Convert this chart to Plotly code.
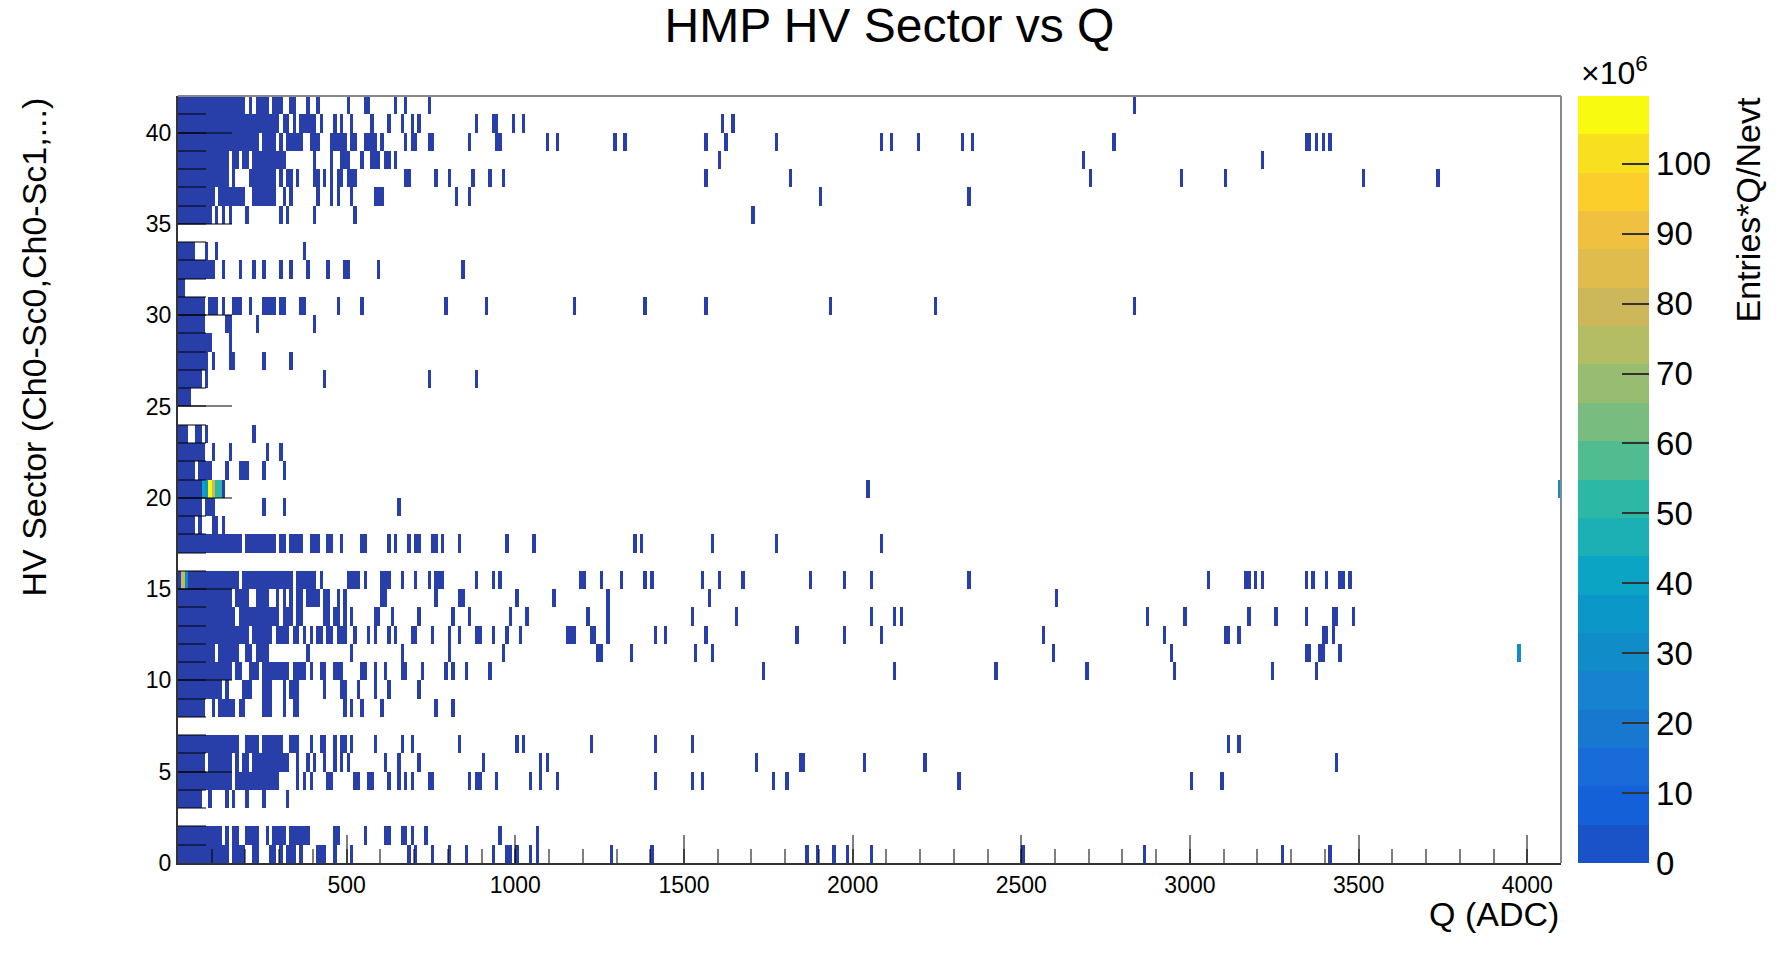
import plotly.graph_objects as go

# ---------------- data ----------------
Q_MAX = 4100          # ADC range of the x axis
BIN_W = 10            # ADC width of one histogram bin
N_SECTORS = 42        # HV sectors 0..41
LOW_LEVEL = 2.0       # x10^6 : ordinary filled cells (lowest colour band)
Z_MAX = 109.7         # x10^6 : top of the colour scale

# occupied ADC ranges [lo, hi) per HV sector (ordinary, low-valued cells)
sector_00 = [(0,150),(160,200),(220,240),(270,290),(300,310),(320,350),(360,370),(410,440),(460,470),(510,520),(680,690),(700,710),(750,760),(800,810),(850,860),(930,940),(970,990),(1000,1010),(1040,1050),(1060,1070),(1280,1290),(1400,1410),(1860,1870),(1890,1900),(1940,1950),(1980,1990),(2050,2060),(2500,2510),(2860,2870),(3270,3280),(3410,3420)]
sector_01 = [(0,130),(140,150),(160,180),(200,240),(260,270),(280,320),(330,390),(460,480),(550,560),(610,630),(660,680),(690,700),(730,740),(950,960),(1060,1070)]
sector_02 = []
sector_03 = [(0,70),(90,100),(140,150),(160,170),(200,210),(250,260),(320,330)]
sector_04 = [(0,160),(170,300),(350,360),(370,380),(390,400),(440,460),(520,540),(560,580),(620,630),(650,660),(670,680),(690,700),(740,760),(860,870),(880,900),(940,950),(1040,1050),(1070,1080),(1120,1130),(1410,1420),(1520,1530),(1550,1560),(1760,1770),(1800,1810),(2310,2320),(3000,3010),(3090,3100)]
sector_05 = [(0,80),(90,160),(170,180),(190,210),(220,330),(350,360),(380,390),(400,410),(430,440),(460,470),(480,490),(500,510),(610,620),(650,660),(710,720),(900,910),(1070,1080),(1090,1100),(1710,1720),(1840,1860),(2030,2040),(2210,2220),(3430,3440)]
sector_06 = [(0,180),(200,240),(250,310),(330,360),(390,400),(420,440),(460,470),(480,500),(510,520),(580,590),(660,670),(690,700),(830,840),(1000,1010),(1020,1030),(1220,1230),(1410,1420),(1520,1530),(3110,3120),(3140,3150)]
sector_07 = []
sector_08 = [(0,80),(100,110),(120,170),(180,200),(250,280),(310,320),(340,360),(490,500),(510,520),(540,550),(600,610),(760,770),(810,820)]
sector_09 = [(0,130),(140,150),(190,220),(250,280),(310,320),(330,360),(430,440),(480,500),(530,540),(580,590),(620,630),(710,720)]
sector_10 = [(0,160),(170,190),(210,240),(250,330),(340,380),(390,400),(420,440),(460,490),(540,560),(580,590),(610,620),(660,680),(720,730),(790,800),(810,820),(850,860),(920,930),(1730,1740),(2120,2130),(2420,2430),(2690,2700),(2950,2960),(3240,3250),(3370,3380)]
sector_11 = [(0,110),(120,180),(200,220),(230,270),(380,390),(510,520),(660,670),(800,810),(960,970),(1240,1260),(1340,1350),(1530,1540),(1580,1590),(2590,2600),(2940,2950),(3340,3360),(3380,3400),(3440,3450)]
sector_12 = [(0,210),(220,280),(290,330),(340,360),(370,380),(390,400),(410,430),(440,460),(470,500),(520,530),(560,570),(580,590),(620,630),(640,650),(690,710),(750,760),(800,810),(830,840),(880,900),(930,940),(970,980),(1010,1020),(1150,1180),(1220,1240),(1270,1280),(1410,1420),(1440,1450),(1560,1570),(1830,1840),(1970,1980),(2080,2090),(2560,2570),(2920,2930),(3100,3120),(3140,3150),(3390,3410),(3420,3430)]
sector_13 = [(0,170),(180,300),(310,340),(350,370),(430,450),(460,480),(490,500),(510,520),(580,600),(630,640),(710,720),(810,820),(860,870),(980,990),(1030,1040),(1210,1220),(1270,1280),(1520,1530),(1650,1660),(2050,2060),(2120,2130),(2140,2150),(2870,2880),(2980,2990),(3170,3180),(3250,3260),(3340,3350),(3420,3440),(3480,3490)]
sector_14 = [(0,160),(170,210),(230,270),(290,300),(310,320),(330,340),(350,370),(380,420),(430,450),(470,480),(490,500),(600,620),(760,770),(830,850),(1000,1010),(1110,1120),(1270,1280),(1570,1580),(2600,2610)]
sector_15 = [(0,10),(30,180),(190,340),(350,410),(420,430),(500,540),(550,560),(600,630),(660,670),(700,710),(740,750),(760,790),(880,890),(930,940),(950,960),(1190,1210),(1250,1260),(1310,1320),(1380,1390),(1400,1410),(1550,1560),(1600,1610),(1670,1680),(1870,1880),(1970,1980),(2050,2060),(2340,2350),(3050,3060),(3160,3180),(3190,3200),(3210,3220),(3340,3350),(3360,3370),(3400,3410),(3440,3460),(3470,3480)]
sector_16 = []
sector_17 = [(0,190),(200,290),(300,320),(330,370),(390,420),(440,460),(480,490),(540,560),(620,630),(640,650),(680,690),(700,720),(750,770),(780,790),(830,840),(970,980),(1050,1060),(1350,1360),(1370,1380),(1580,1590),(1770,1780),(2080,2090)]
sector_18 = [(0,50),(60,70),(100,120),(130,140)]
sector_19 = [(0,70),(80,110),(250,260),(310,320),(650,660)]
sector_20 = [(0,70),(130,140),(2040,2050)]
sector_21 = [(0,50),(60,100),(140,150),(180,210),(250,260),(310,320)]
sector_22 = [(0,80),(100,110),(150,160),(260,270),(300,310)]
sector_23 = [(0,30),(50,70),(80,90),(220,230)]
sector_24 = []
sector_25 = [(0,40)]
sector_26 = [(0,70),(80,90),(430,440),(740,750),(880,890)]
sector_27 = [(0,90),(100,110),(150,170),(250,260),(330,340)]
sector_28 = [(0,100),(150,160)]
sector_29 = [(0,80),(140,160),(230,240),(400,410)]
sector_30 = [(0,80),(90,120),(130,140),(160,190),(210,220),(250,290),(300,320),(360,380),(470,480),(540,550),(790,800),(910,920),(1170,1180),(1380,1390),(1560,1570),(1930,1940),(2240,2250),(2830,2840)]
sector_31 = [(0,20)]
sector_32 = [(0,110),(130,140),(180,190),(220,230),(250,260),(300,310),(330,340),(380,390),(440,450),(490,510),(590,600),(840,850)]
sector_33 = [(0,50),(80,90),(110,120),(370,380)]
sector_34 = []
sector_35 = [(0,100),(110,120),(130,140),(150,160),(200,210),(300,310),(320,330),(400,410),(520,530),(1700,1710)]
sector_36 = [(0,110),(120,200),(220,290),(310,320),(330,340),(410,420),(450,460),(470,480),(510,520),(580,610),(820,830),(860,870),(1900,1910),(2340,2350)]
sector_37 = [(0,150),(160,170),(210,290),(300,310),(320,340),(350,360),(400,420),(430,440),(450,460),(470,490),(500,530),(670,690),(760,770),(800,810),(870,880),(920,930),(960,970),(1560,1570),(1810,1820),(2700,2710),(2970,2980),(3100,3110),(3510,3520),(3730,3740)]
sector_38 = [(0,150),(160,180),(190,210),(220,320),(400,410),(450,460),(480,510),(540,550),(570,600),(610,630),(640,650),(1600,1610),(2680,2690),(3210,3220)]
sector_39 = [(0,240),(250,290),(300,310),(320,370),(390,420),(450,500),(510,530),(550,590),(600,610),(670,680),(690,710),(740,760),(860,870),(940,960),(1090,1100),(1120,1130),(1290,1300),(1320,1330),(1560,1570),(1620,1630),(1770,1780),(2080,2090),(2110,2120),(2190,2200),(2320,2330),(2350,2360),(2770,2780),(3340,3360),(3370,3380),(3390,3400),(3410,3420)]
sector_40 = [(0,300),(310,330),(340,350),(360,410),(420,430),(460,470),(480,490),(510,520),(570,580),(620,630),(660,670),(690,700),(710,720),(880,890),(930,950),(990,1000),(1020,1030),(1610,1620),(1640,1650)]
sector_41 = [(0,200),(210,220),(230,270),(280,310),(330,350),(380,390),(410,420),(500,510),(550,570),(640,650),(670,680),(740,750),(2830,2840)]

# cells with clearly higher content (x10^6)
hot_sector = [20, 20, 20, 20, 20, 20, 20, 15, 15, 11]
hot_q      = [70, 80, 90, 100, 110, 120, 4090, 10, 20, 3970]
hot_value  = [42, 36, 107, 80, 52, 52, 28, 80, 28, 28]

x_tick_vals = [500, 1000, 1500, 2000, 2500, 3000, 3500, 4000]
y_tick_vals = [0, 5, 10, 15, 20, 25, 30, 35, 40]
cbar_tick_vals = [0, 10, 20, 30, 40, 50, 60, 70, 80, 90, 100]

# ---------------- styles ----------------
band_colors = ["#1a52c8", "#1460d8", "#186bd8", "#1878d0", "#1682d0",
               "#108cc8", "#0b98c8", "#0ca4c4", "#1cb0b4", "#2cb8a4",
               "#50bc90", "#78bc80", "#98bc70", "#b4bc64", "#ccb85a",
               "#e0bc4c", "#f0c040", "#fcce2c", "#f8e020", "#f8fa10"]
cell_low_color = "#283ea8"
FONT = "Liberation Sans"
TICK_C = "rgba(0,0,0,0.5)"

sectors = [sector_00, sector_01, sector_02, sector_03, sector_04, sector_05,
           sector_06, sector_07, sector_08, sector_09, sector_10, sector_11,
           sector_12, sector_13, sector_14, sector_15, sector_16, sector_17,
           sector_18, sector_19, sector_20, sector_21, sector_22, sector_23,
           sector_24, sector_25, sector_26, sector_27, sector_28, sector_29,
           sector_30, sector_31, sector_32, sector_33, sector_34, sector_35,
           sector_36, sector_37, sector_38, sector_39, sector_40, sector_41]

n_bins = Q_MAX // BIN_W
z = [[None] * n_bins for _ in range(N_SECTORS)]
for s, runs in enumerate(sectors):
    for lo, hi in runs:
        for b in range(lo // BIN_W, hi // BIN_W):
            z[s][b] = LOW_LEVEL
for s, q, v in zip(hot_sector, hot_q, hot_value):
    z[s][q // BIN_W] = v

x_centers = [(b + 0.5) * BIN_W for b in range(n_bins)]
y_centers = [s + 0.5 for s in range(N_SECTORS)]


def discrete_scale(colors):
    n = len(colors)
    out = []
    for i, c in enumerate(colors):
        out.append([i / n, c])
        out.append([(i + 1) / n, c])
    return out


cell_scale = discrete_scale([cell_low_color] + band_colors[1:])
bar_scale = discrete_scale(band_colors)

fig = go.Figure()
fig.add_trace(go.Heatmap(
    x=x_centers, y=y_centers, z=z, colorscale=cell_scale,
    zmin=0, zmax=Z_MAX, showscale=False, hoverongaps=False, zsmooth=False))

# colour bar (separate, so the bar shows the palette bands)
fig.add_trace(go.Scatter(
    x=[-1000], y=[-1000], mode="markers", showlegend=False, hoverinfo="skip",
    marker=dict(color=[0], colorscale=bar_scale, cmin=0, cmax=Z_MAX,
                showscale=True,
                colorbar=dict(x=1.0123, xanchor="left", y=0.5, yanchor="middle",
                              len=1.0, lenmode="fraction", thickness=71,
                              thicknessmode="pixels", xpad=0, ypad=0,
                              outlinewidth=0, ticks="inside", ticklen=27,
                              tickwidth=1.5, tickcolor="#333",
                              tickmode="array", tickvals=cbar_tick_vals,
                              tickfont=dict(family=FONT, size=33, color="black")))))

W, H = 1779, 960
L, R, T, B = 178, 218, 96, 97
pw, ph = W - L - R, H - T - B


def px(xp):
    return (xp - L) / pw


def py(yp):
    return (H - B - yp) / ph


fig.update_layout(
    width=W, height=H,
    margin=dict(l=L, r=R, t=T, b=B, pad=0),
    paper_bgcolor="white", plot_bgcolor="white",
    font=dict(family=FONT, color="black"),
    title=dict(text="HMP HV Sector vs Q", x=0.5, xanchor="center",
               y=1 - 25 / H, yanchor="middle",
               font=dict(family=FONT, size=48, color="black")),
    xaxis=dict(range=[0, Q_MAX], showline=True, linecolor="#333", linewidth=2,
               mirror=False, showgrid=False, zeroline=False,
               ticks="inside", ticklen=28, tickwidth=1.5, tickcolor=TICK_C,
               tickmode="array", tickvals=x_tick_vals,
               tickfont=dict(family=FONT, size=23, color="black"),
               minor=dict(ticks="inside", ticklen=14, tickwidth=1.5,
                          tickcolor=TICK_C, tickmode="linear", tick0=0,
                          dtick=100, showgrid=False)),
    yaxis=dict(range=[0, N_SECTORS], showline=True, linecolor="#333", linewidth=2,
               mirror=False, showgrid=False, zeroline=False,
               ticks="inside", ticklen=54, tickwidth=1.5, tickcolor=TICK_C,
               tickmode="array", tickvals=y_tick_vals,
               tickfont=dict(family=FONT, size=23, color="black"),
               minor=dict(ticks="inside", ticklen=28, tickwidth=1.5,
                          tickcolor=TICK_C, tickmode="linear", tick0=0,
                          dtick=1, showgrid=False)),
    shapes=[
        dict(type="line", xref="paper", yref="paper", x0=0, x1=1, y0=1, y1=1,
             line=dict(color="#888", width=2), layer="above"),
        dict(type="line", xref="paper", yref="paper", x0=1, x1=1, y0=0, y1=1,
             line=dict(color="#888", width=2), layer="above"),
    ],
    annotations=[
        dict(text="HV Sector (Ch0-Sc0,Ch0-Sc1,...)", xref="paper", yref="paper",
             x=px(33), y=1.0, xanchor="center", yanchor="top", textangle=-90,
             showarrow=False, font=dict(family=FONT, size=34, color="black")),
        dict(text="Q (ADC)", xref="paper", yref="paper",
             x=1.0, y=py(914), xanchor="right", yanchor="middle",
             showarrow=False, font=dict(family=FONT, size=34, color="black")),
        dict(text="Entries*Q/Nevt", xref="paper", yref="paper",
             x=px(1747), y=1.0, xanchor="center", yanchor="top", textangle=-90,
             showarrow=False, font=dict(family=FONT, size=34, color="black")),
        dict(text="\u00d710<sup>6</sup>", xref="paper", yref="paper",
             x=px(1579), y=py(71), xanchor="left", yanchor="middle",
             showarrow=False, font=dict(family=FONT, size=32, color="black")),
    ],
)

fig.write_html("out.html", config={"displayModeBar": False},
               post_script="document.body.style.margin='0px';")
